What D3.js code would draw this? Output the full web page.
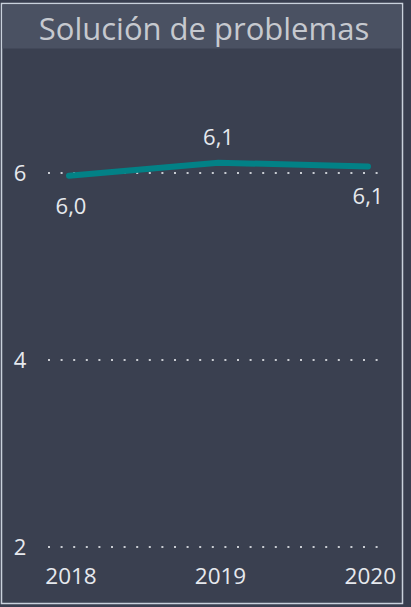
<!DOCTYPE html>
<html>
<head>
<meta charset="utf-8">
<script src="https://cdn.jsdelivr.net/npm/d3@7"></script>
<style>
  body { margin: 0; background: #383e4f; }
  text { font-family: "Open Sans", "Noto Sans", sans-serif; }
</style>
</head>
<body>
<svg id="chart" width="411" height="607"></svg>
<script>
var title = "Solución de problemas";
var years = ["2018", "2019", "2020"];
var values = [5.97, 6.11, 6.07];
var valueLabels = ["6,0", "6,1", "6,1"];
var labelPos = ["below", "above", "below"];
var yTicks = [2, 4, 6];

var svg = d3.select("#chart");

// panel + border
svg.append("rect")
    .attr("x", 1.5).attr("y", 3.5)
    .attr("width", 401).attr("height", 600)
    .attr("fill", "#3a4050")
    .attr("stroke", "#c9d1dc")
    .attr("stroke-width", 1.5);

// title band
svg.append("rect")
    .attr("x", 2.5).attr("y", 4.5)
    .attr("width", 399).attr("height", 44)
    .attr("fill", "#4a5162");

svg.append("text")
    .attr("x", 204).attr("y", 40)
    .attr("text-anchor", "middle")
    .attr("font-size", 31)
    .attr("fill", "#c6c9cf")
    .text(title);

var x = d3.scalePoint().domain(years).range([69, 368]);
var y = d3.scaleLinear().domain([2, 6]).range([547, 173]);

// gridlines
svg.append("g").selectAll("line")
    .data(yTicks)
    .enter().append("line")
    .attr("x1", 48).attr("x2", 382)
    .attr("y1", function(d) { return y(d); })
    .attr("y2", function(d) { return y(d); })
    .attr("stroke", "#c9ccd2")
    .attr("stroke-width", 2)
    .attr("stroke-dasharray", "2,10.6");

// y axis labels
svg.append("g").selectAll("text")
    .data(yTicks)
    .enter().append("text")
    .attr("x", 20)
    .attr("y", function(d) { return y(d); })
    .attr("dy", "0.36em")
    .attr("text-anchor", "middle")
    .attr("font-size", 22)
    .attr("fill", "#e6e9ee")
    .text(function(d) { return d; });

// x axis labels
svg.append("g").selectAll("text")
    .data(years)
    .enter().append("text")
    .attr("x", function(d, i) { return i === years.length - 1 ? 396 : x(d) + 2; })
    .attr("y", 584)
    .attr("text-anchor", function(d, i) { return i === years.length - 1 ? "end" : "middle"; })
    .attr("font-size", 22.5)
    .attr("fill", "#e6e9ee")
    .text(function(d) { return d; });

var pts = years.map(function(d, i) { return { year: d, value: values[i], label: valueLabels[i], pos: labelPos[i] }; });

var line = d3.line()
    .x(function(d) { return x(d.year); })
    .y(function(d) { return y(d.value); });

svg.append("path")
    .datum(pts)
    .attr("d", line)
    .attr("fill", "none")
    .attr("stroke", "#028186")
    .attr("stroke-width", 6)
    .attr("stroke-linecap", "round")
    .attr("stroke-linejoin", "round");

// data labels
svg.append("g").selectAll("text")
    .data(pts)
    .enter().append("text")
    .attr("x", function(d, i) { return x(d.year) + (i === 0 ? 2 : 0); })
    .attr("y", function(d) { return y(d.value) + (d.pos === "above" ? -18 : 38); })
    .attr("text-anchor", "middle")
    .attr("font-size", 22)
    .attr("fill", "#e6e9ee")
    .text(function(d) { return d.label; });
</script>
</body>
</html>
